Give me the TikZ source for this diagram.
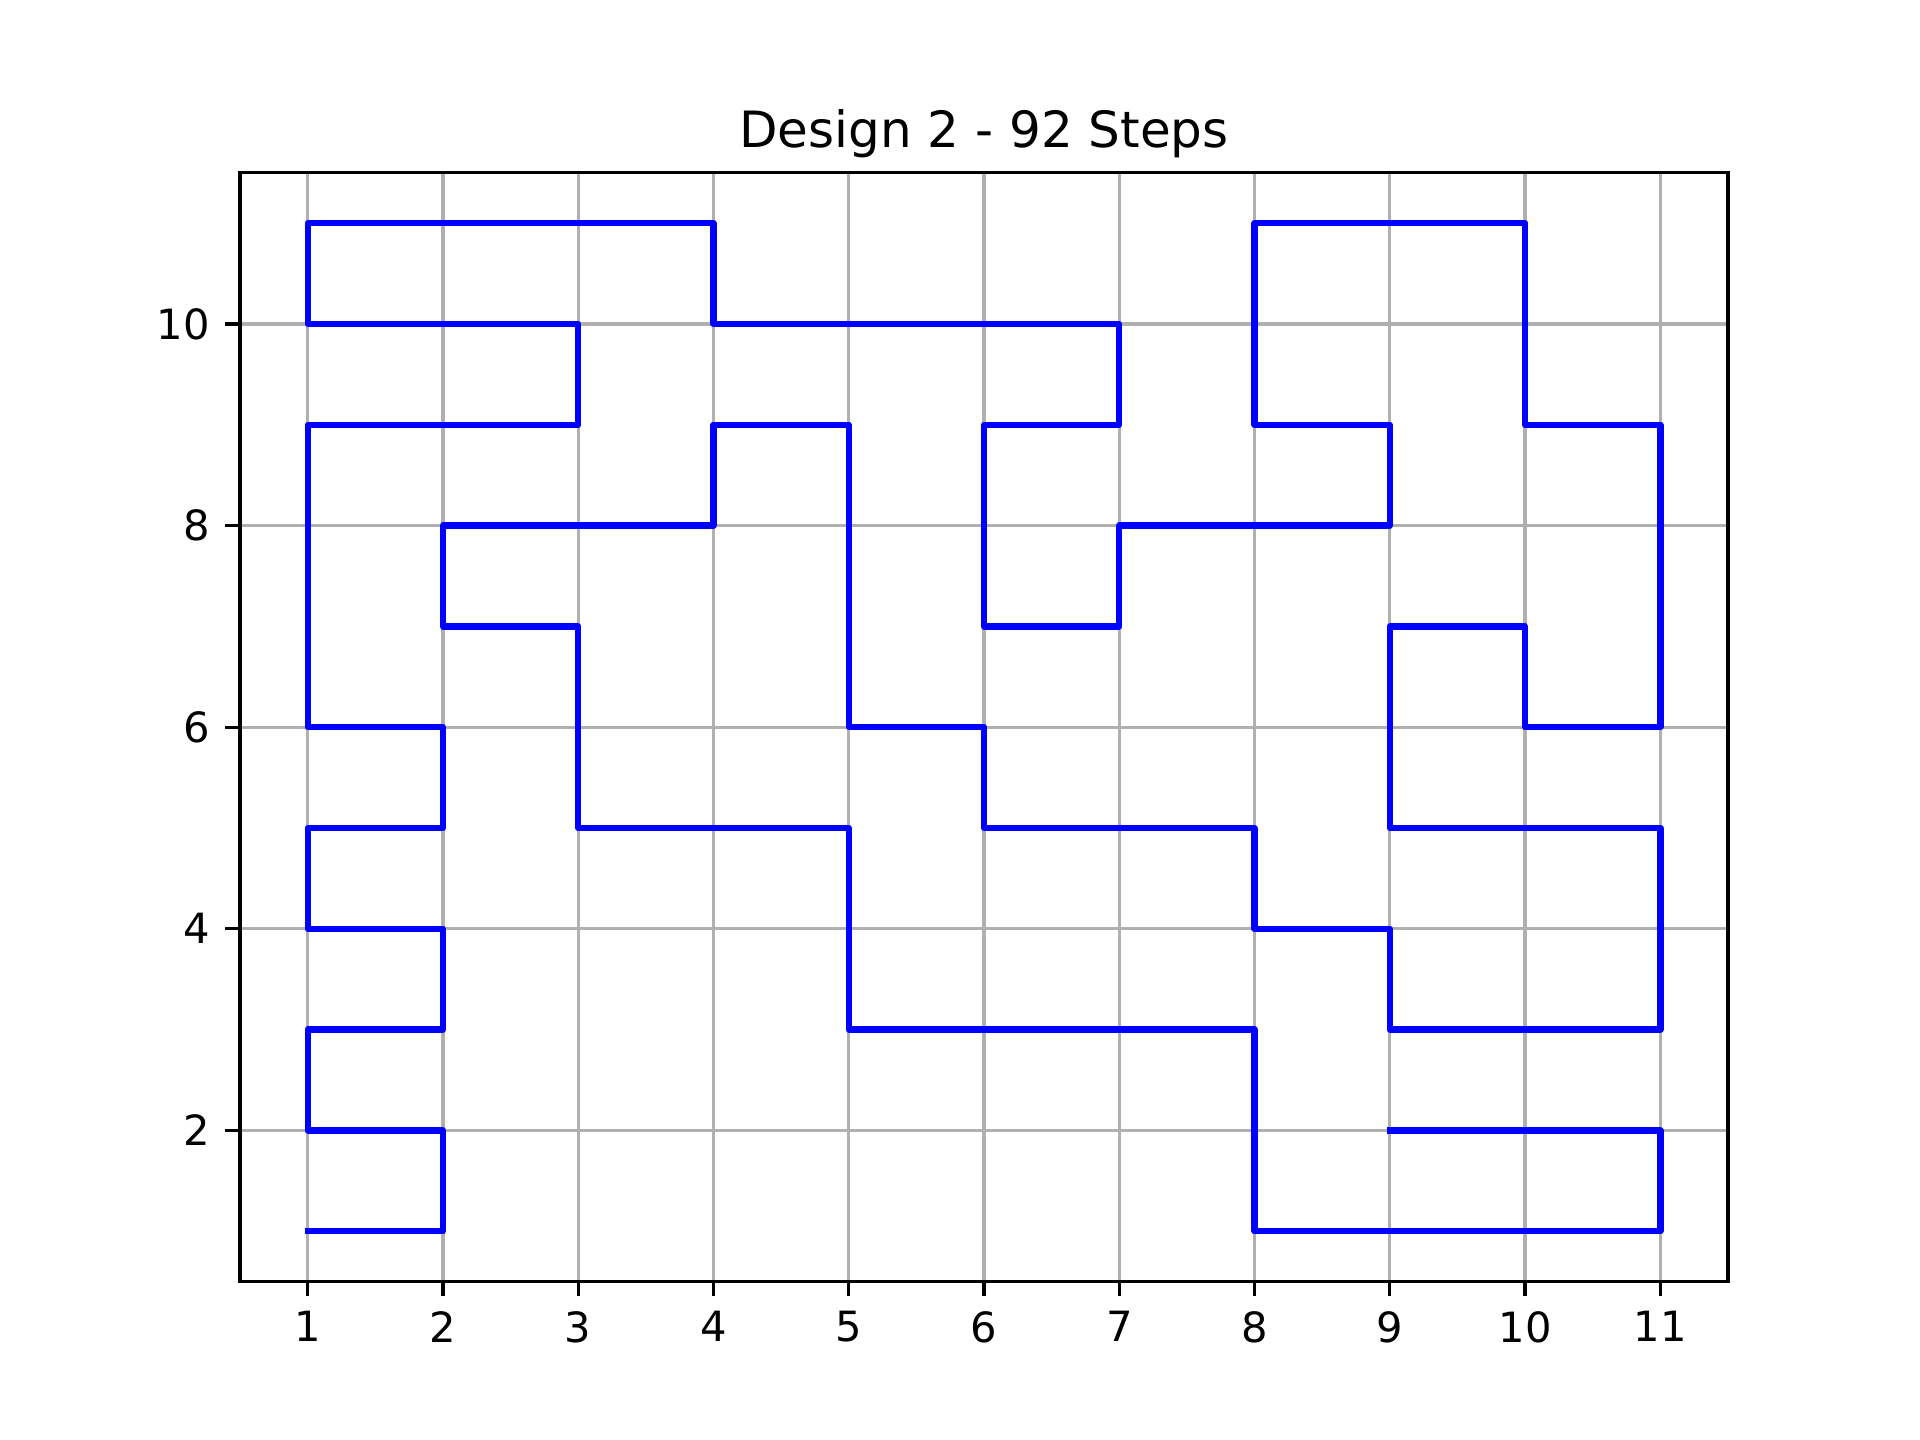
\documentclass[tikz,border=0pt]{standalone}
\usepackage{fontspec}
\setmainfont{DejaVu Sans}
\definecolor{gridgray}{HTML}{B0B0B0}
\begin{document}
\begin{tikzpicture}[x=32.4655pt,y=24.192pt,
  gridline/.style={draw=gridgray,line width=0.8pt},
  spine/.style={draw=black,line width=0.8pt,line cap=rect},
  tickmark/.style={draw=black,line width=0.8pt},
  walk/.style={draw=blue,line width=1.5pt,line join=round,line cap=rect},
  xlab/.style={anchor=north,inner sep=0pt,font=\fontsize{10}{12}\selectfont,yshift=-7pt},
  ylab/.style={anchor=east,inner sep=0pt,font=\fontsize{10}{12}\selectfont,xshift=-7pt},
  titlelab/.style={anchor=base,inner sep=0pt,font=\fontsize{12}{14}\selectfont,yshift=6pt}]
\useasboundingbox[fill=white] (-1.2742,-1.0714) rectangle (12.9194,13.2143);
% grid
\foreach \i in {1,...,11} \draw[gridline] (\i,0.5) -- (\i,11.5);
\foreach \j in {2,4,...,10} \draw[gridline] (0.5,\j) -- (11.5,\j);
% walk
\draw[walk] (1,1) -- (2,1) -- (2,2) -- (1,2) -- (1,3) -- (2,3) -- (2,4) -- (1,4) -- (1,5) -- (2,5) -- (2,6) -- (1,6) -- (1,9) -- (3,9) -- (3,10) -- (1,10) -- (1,11) -- (4,11) -- (4,10) -- (7,10) -- (7,9) -- (6,9) -- (6,7) -- (7,7) -- (7,8) -- (9,8) -- (9,9) -- (8,9) -- (8,11) -- (10,11) -- (10,9) -- (11,9) -- (11,6) -- (10,6) -- (10,7) -- (9,7) -- (9,5) -- (11,5) -- (11,3) -- (9,3) -- (9,4) -- (8,4) -- (8,5) -- (6,5) -- (6,6) -- (5,6) -- (5,9) -- (4,9) -- (4,8) -- (2,8) -- (2,7) -- (3,7) -- (3,5) -- (5,5) -- (5,3) -- (8,3) -- (8,1) -- (11,1) -- (11,2) -- (9,2);
% spines
\draw[spine] (0.5,0.5) rectangle (11.5,11.5);
% ticks and labels
\foreach \i in {1,...,11} {
  \draw[tickmark] (\i,0.5) -- ++(0,-3.5pt);
  \node[xlab] (xt\i) at (\i,0.5) {\i};
}
\foreach \j in {2,4,...,10} {
  \draw[tickmark] (0.5,\j) -- ++(-3.5pt,0);
  \node[ylab] (yt\j) at (0.5,\j) {\j};
}
\node[titlelab] (title) at (6,11.5) {Design 2 - 92 Steps};
\end{tikzpicture}
\end{document}
